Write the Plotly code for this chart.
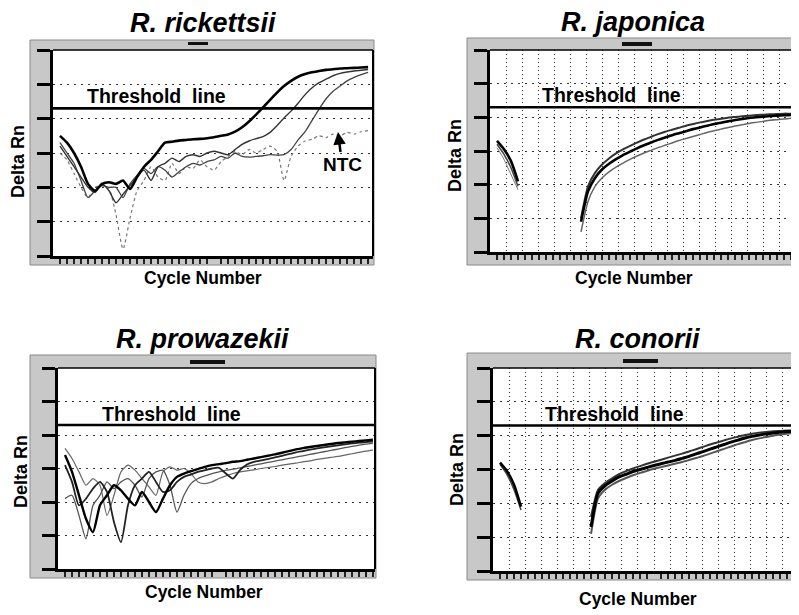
import plotly.graph_objects as go

# ---------------- data ----------------
titles = ["R. rickettsii", "R. japonica", "R. prowazekii", "R. conorii"]
x_label = "Cycle Number"
y_label = "Delta Rn"
threshold_label = "Threshold  line"
ntc_label = "NTC"
threshold = [4.3, 4.3, 4.3, 4.3]

cycles = list(range(1, 46))

# R. rickettsii
rick_a = [3.5, 3.3, 3.0, 2.6, 2.1, 1.9, 2.1, 2.15, 2.1, 2.2, 1.95, 2.3, 2.6, 2.8, 3.05, 3.3, 3.33, 3.36, 3.38, 3.4,
          3.41, 3.43, 3.46, 3.5, 3.54, 3.62, 3.75, 3.92, 4.12, 4.33, 4.55, 4.76, 4.95, 5.1, 5.22, 5.3, 5.35, 5.39, 5.42, 5.44,
          5.46, 5.47, 5.48, 5.49, 5.5]
rick_b = [3.2, 2.9, 2.6, 2.3, 2.0, 1.85, 2.1, 1.9, 1.55, 1.8, 2.05, 2.3, 2.5, 2.2, 2.6, 2.7, 2.85, 2.75, 2.9, 2.95,
          2.9, 3.0, 3.05, 3.0, 2.95, 3.1, 3.25, 3.35, 3.42, 3.48, 3.6, 3.8, 4.02, 4.22, 4.45, 4.7, 4.9, 5.05, 5.15, 5.25,
          5.32, 5.36, 5.39, 5.41, 5.43]
rick_c = [3.3, 3.0, 2.7, 2.2, 1.7, 1.9, 2.05, 2.0, 2.0, 1.7, 2.1, 2.35, 2.55, 2.4, 2.6, 2.5, 2.3, 2.45, 2.6, 2.7,
          2.65, 2.75, 2.8, 2.9, 2.85, 3.0, 2.9, 2.88, 2.9, 2.92, 2.95, 2.94, 2.95, 3.1, 3.38, 3.62, 3.95, 4.28, 4.58, 4.8,
          4.95, 5.1, 5.2, 5.28, 5.35]
rick_ntc = [3.0, 2.8, 2.4, 2.0, 1.7, 2.0, 2.05, 1.95, 1.2, 0.2, 1.1, 1.9, 2.2, 2.6, 2.3, 2.2, 2.7, 2.4, 2.6, 2.55,
            2.8, 2.6, 2.5, 2.75, 2.9, 3.05, 2.95, 3.1, 3.0, 3.1, 3.2, 3.05, 2.2, 2.9, 3.2, 3.35, 3.4, 3.5, 3.45, 3.55,
            3.5, 3.6, 3.55, 3.62, 3.65]

# R. japonica
jap_early_cycles = [1, 2, 3, 4]
jap_e1 = [3.3, 3.05, 2.7, 2.1]
jap_e2 = [3.2, 2.9, 2.5, 1.95]
jap_e3 = [3.1, 2.75, 2.3, 1.85]
jap_cycles = list(range(13, 45))
jap_m1 = [1.0, 1.95, 2.35, 2.6, 2.78, 2.93, 3.05, 3.15, 3.25, 3.34, 3.42, 3.5, 3.57, 3.63, 3.69, 3.75,
          3.8, 3.85, 3.89, 3.93, 3.96, 3.99, 4.01, 4.03, 4.05, 4.07, 4.08, 4.09, 4.1, 4.11, 4.11, 4.12]
jap_m2 = [0.9, 1.8, 2.2, 2.45, 2.62, 2.76, 2.88, 2.98, 3.08, 3.17, 3.25, 3.33, 3.4, 3.47, 3.53, 3.59,
          3.65, 3.7, 3.75, 3.8, 3.84, 3.88, 3.92, 3.95, 3.98, 4.0, 4.02, 4.04, 4.05, 4.06, 4.07, 4.08]
jap_m3 = [0.6, 1.5, 1.95, 2.2, 2.38, 2.52, 2.64, 2.75, 2.85, 2.94, 3.02, 3.1, 3.17, 3.24, 3.31, 3.37,
          3.43, 3.49, 3.55, 3.6, 3.65, 3.7, 3.74, 3.78, 3.82, 3.85, 3.88, 3.91, 3.93, 3.95, 3.97, 3.98]

# R. prowazekii
prow_a = [3.4, 2.9, 2.2, 1.5, 1.1, 1.9, 2.2, 2.5, 2.35, 2.1, 1.9, 2.3, 2.0, 1.7, 2.1, 2.5, 2.75, 2.85, 2.92, 2.98,
          3.05, 3.1, 3.13, 3.16, 3.2, 3.22, 3.26, 3.3, 3.34, 3.38, 3.42, 3.47, 3.52, 3.57, 3.61, 3.64, 3.67, 3.7, 3.73, 3.76,
          3.78, 3.8, 3.82, 3.84, 3.86]
prow_b = [3.1, 2.6, 1.9, 2.1, 2.4, 2.6, 2.3, 1.4, 0.8, 1.9, 2.5, 2.7, 2.9, 2.6, 2.3, 2.35, 2.6, 2.75, 2.82, 2.9,
          2.95, 3.0, 3.02, 2.85, 2.7, 2.95, 3.12, 3.2, 3.24, 3.28, 3.33, 3.38, 3.43, 3.48, 3.52, 3.56, 3.6, 3.63, 3.66, 3.69,
          3.72, 3.75, 3.77, 3.79, 3.8]
prow_c = [2.1, 2.2, 1.6, 0.9, 1.9, 2.2, 2.6, 2.4, 2.6, 2.7, 2.5, 2.15, 2.7, 2.9, 2.95, 2.5, 1.7, 2.2, 2.55, 2.7,
          2.78, 2.85, 2.9, 2.95, 2.98, 3.02, 3.06, 3.1, 3.14, 3.18, 3.22, 3.26, 3.3, 3.34, 3.38, 3.42, 3.46, 3.5, 3.54, 3.58,
          3.62, 3.66, 3.7, 3.73, 3.75]
prow_d = [3.6, 3.3, 2.9, 2.5, 2.7, 2.5, 1.6, 2.2, 2.9, 3.1, 2.95, 2.7, 2.45, 2.2, 2.9, 3.05, 2.95, 3.0, 2.85, 2.6,
          2.55, 2.6, 2.7, 2.78, 2.85, 2.9, 2.93, 2.96, 3.0, 3.03, 3.06, 3.1, 3.13, 3.16, 3.2, 3.23, 3.27, 3.3, 3.33, 3.36,
          3.4, 3.44, 3.48, 3.52, 3.55]

# R. conorii
con_early_cycles = [1, 2, 3, 4]
con_e1 = [3.2, 2.95, 2.55, 1.9]
con_e2 = [3.15, 2.85, 2.4, 1.8]
con_cycles = list(range(14, 45))
con_m1 = [1.3, 2.3, 2.52, 2.66, 2.78, 2.86, 2.94, 3.0, 3.06, 3.12, 3.17, 3.22, 3.27, 3.33, 3.39, 3.46,
          3.53, 3.6, 3.67, 3.74, 3.81, 3.87, 3.93, 3.98, 4.02, 4.05, 4.08, 4.1, 4.12, 4.13, 4.14]
con_m2 = [1.6, 2.4, 2.6, 2.74, 2.86, 2.95, 3.03, 3.1, 3.17, 3.23, 3.29, 3.35, 3.41, 3.47, 3.53, 3.6,
          3.67, 3.74, 3.8, 3.86, 3.92, 3.97, 4.02, 4.06, 4.09, 4.11, 4.13, 4.14, 4.15, 4.16, 4.16]
con_m3 = [1.1, 2.15, 2.4, 2.55, 2.66, 2.75, 2.83, 2.9, 2.96, 3.02, 3.07, 3.12, 3.17, 3.22, 3.28, 3.34,
          3.4, 3.47, 3.54, 3.61, 3.68, 3.75, 3.81, 3.87, 3.92, 3.96, 4.0, 4.03, 4.06, 4.08, 4.1]

# ---------------- layout helpers (pixel geometry) ----------------
# the page body adds an 8px margin, so the figure is 8px smaller and shifted
OFF = 8
W, H = 799 - OFF, 615 - OFF
def PX(x): return (x - OFF) / W
def PY(y): return 1 - (y - OFF) / H

FONT = "Liberation Sans, Arial, sans-serif"

boxes = [
    dict(x0=53, x1=373, yt=50, yb=256, xmax=45.7, frame=(30, 374, 40, 265), bar=(188, 208, 42, 45)),
    dict(x0=490, x1=799, yt=50, yb=252, xmax=44.14, frame=(467, 800, 38, 265), bar=(622, 652, 42, 46)),
    dict(x0=58, x1=375, yt=368, yb=569, xmax=45.3, frame=(30, 376, 355, 578), bar=(190, 225, 360, 364)),
    dict(x0=493, x1=799, yt=368, yb=571, xmax=43.7, frame=(467, 800, 353, 580), bar=(623, 658, 359, 363)),
]

fig = go.Figure()

def add(ax, xs, ys, color, width, dash="solid"):
    s = "" if ax == 1 else str(ax)
    fig.add_trace(go.Scatter(x=xs, y=ys, mode="lines", xaxis="x" + s, yaxis="y" + s,
                             line=dict(color=color, width=width, dash=dash, shape="spline", smoothing=0.6),
                             showlegend=False, hoverinfo="skip"))

# panel 1
add(1, cycles, rick_ntc, "#777", 1.2, "dot")
add(1, cycles, rick_c, "#444", 1.3)
add(1, cycles, rick_b, "#333", 1.4)
add(1, cycles, rick_a, "#000", 2.6)
# panel 2
add(2, jap_early_cycles, jap_e3, "#777", 1.0)
add(2, jap_early_cycles, jap_e2, "#444", 1.5)
add(2, jap_early_cycles, jap_e1, "#000", 2.6)
add(2, jap_cycles, jap_m3, "#666", 1.5)
add(2, jap_cycles, jap_m1, "#333", 2.0)
add(2, jap_cycles, jap_m2, "#000", 2.6)
# panel 3
add(3, cycles, prow_d, "#666", 1.2)
add(3, cycles, prow_c, "#555", 1.3)
add(3, cycles, prow_b, "#222", 1.8)
add(3, cycles, prow_a, "#000", 2.4)
# panel 4
add(4, con_early_cycles, con_e2, "#444", 1.5)
add(4, con_early_cycles, con_e1, "#000", 2.6)
add(4, con_cycles, con_m3, "#555", 2.0)
add(4, con_cycles, con_m2, "#333", 2.0)
add(4, con_cycles, con_m1, "#000", 3.0)

layout = dict(width=W, height=H, margin=dict(l=0, r=0, t=0, b=0),
              paper_bgcolor="white", plot_bgcolor="white", showlegend=False)

shapes = []
annotations = []
for i, b in enumerate(boxes):
    n = i + 1
    sx = "" if n == 1 else str(n)
    vgrid = n in (2, 4)
    layout["xaxis" + sx] = dict(
        domain=[PX(b["x0"]), min(1.0, PX(b["x1"]))], range=[0, b["xmax"]], anchor="y" + sx,
        showline=True, linecolor="black", linewidth=3, zeroline=False, showticklabels=False,
        showgrid=vgrid, gridcolor="#333", gridwidth=1, griddash="1px,3px",
        tick0=0, dtick=2.3, ticks="",
        minor=dict(ticks="outside", dtick=1, tick0=0, ticklen=5, tickwidth=2, tickcolor="#222", showgrid=False),
        fixedrange=True)
    layout["yaxis" + sx] = dict(
        domain=[PY(b["yb"]), PY(b["yt"])], range=[0, 6], anchor="x" + sx,
        showline=True, linecolor="black", linewidth=3, zeroline=False, showticklabels=False,
        showgrid=True, gridcolor="#333", gridwidth=1, griddash="2px,5px",
        tick0=0, dtick=1, ticks="outside", ticklen=13, tickwidth=3, tickcolor="black",
        fixedrange=True)
    fx0, fx1, fy0, fy1 = b["frame"]
    shapes.append(dict(type="rect", xref="paper", yref="paper", layer="below",
                       x0=PX(fx0), x1=PX(fx1), y0=PY(fy1), y1=PY(fy0),
                       fillcolor="#c8c8c8", line=dict(color="#8a8a8a", width=1)))
    shapes.append(dict(type="rect", xref="paper", yref="paper", layer="below",
                       x0=PX(b["x0"]), x1=PX(b["x1"]), y0=PY(b["yb"]), y1=PY(b["yt"]),
                       fillcolor="white", line=dict(width=0)))
    bx0, bx1, by0, by1 = b["bar"]
    shapes.append(dict(type="rect", xref="paper", yref="paper", layer="above",
                       x0=PX(bx0), x1=PX(bx1), y0=PY(by1), y1=PY(by0),
                       fillcolor="#111", line=dict(width=0)))
    shapes.append(dict(type="line", xref="x" + sx + " domain", yref="y" + sx + " domain",
                       x0=0, x1=1, y0=1, y1=1, line=dict(color="black", width=1.5)))
    if n in (1, 3):
        shapes.append(dict(type="line", xref="x" + sx + " domain", yref="y" + sx + " domain",
                           x0=1, x1=1, y0=0, y1=1, line=dict(color="black", width=2)))
    shapes.append(dict(type="line", xref="x" + sx + " domain", yref="y" + sx,
                       x0=0, x1=1, y0=threshold[i], y1=threshold[i], line=dict(color="black", width=2.6)))

title_pos = [(203, 23), (633, 22), (202, 339), (637, 339)]
xlab_pos = [(203, 278), (634, 278), (204, 592), (638, 599)]
ylab_pos = [(18, 162), (455, 156), (21, 472), (457, 470)]
thr_pos = [(85, 96), (540, 95), (100, 414), (543, 414)]

for i in range(4):
    tx, ty = title_pos[i]
    annotations.append(dict(xref="paper", yref="paper", x=PX(tx), y=PY(ty), showarrow=False,
                            text="<b><i>" + titles[i] + "</i></b>", font=dict(family=FONT, size=27, color="black"),
                            xanchor="center", yanchor="middle"))
    lx, ly = xlab_pos[i]
    annotations.append(dict(xref="paper", yref="paper", x=PX(lx), y=PY(ly), showarrow=False,
                            text="<b>" + x_label + "</b>", font=dict(family=FONT, size=17.5, color="black"),
                            xanchor="center", yanchor="middle"))
    vx, vy = ylab_pos[i]
    annotations.append(dict(xref="paper", yref="paper", x=PX(vx), y=PY(vy), showarrow=False, textangle=-90,
                            text="<b>" + y_label + "</b>", font=dict(family=FONT, size=18, color="black"),
                            xanchor="center", yanchor="middle"))
    hx, hy = thr_pos[i]
    annotations.append(dict(xref="paper", yref="paper", x=PX(hx), y=PY(hy), showarrow=False,
                            text="<b>" + threshold_label.replace("  ", "&nbsp; ") + "</b>",
                            font=dict(family=FONT, size=19.5, color="black"),
                            xanchor="left", yanchor="middle"))

annotations.append(dict(xref="paper", yref="paper", x=PX(338), y=PY(132), ax=4, ay=32,
                        showarrow=True, arrowhead=2, arrowsize=1, arrowwidth=2.5, arrowcolor="black",
                        text="<b>" + ntc_label + "</b>", font=dict(family=FONT, size=19, color="black"),
                        standoff=0, startstandoff=0))

layout["shapes"] = shapes
layout["annotations"] = annotations
fig.update_layout(**layout)
fig.write_html("out.html")
